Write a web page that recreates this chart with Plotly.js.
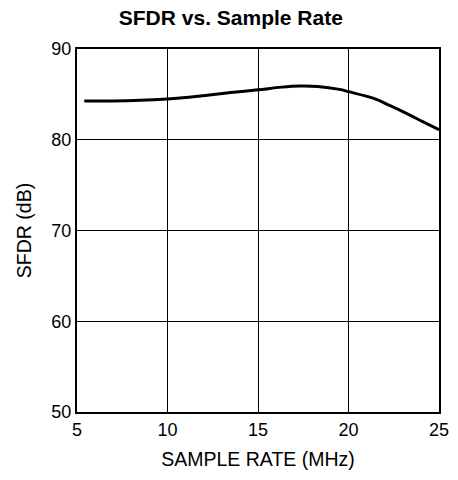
<!DOCTYPE html>
<html>
<head>
<meta charset="utf-8">
<script src="https://cdn.plot.ly/plotly-3.0.1.min.js"></script>
<style>html,body{margin:0;padding:0;background:#fff;}#chart{width:458px;height:480px;}</style>
</head>
<body>
<div id="chart"></div>
<script>
const sampleRate = [5.4, 7, 8.5, 10, 11, 12.2, 13.5, 15, 16.3, 17.3, 18.3, 19.5, 20, 21.4, 22.3, 23.2, 24.1, 25];
const sfdr = [84.28, 84.28, 84.35, 84.5, 84.65, 84.9, 85.2, 85.5, 85.8, 85.93, 85.88, 85.55, 85.3, 84.55, 83.75, 82.9, 82.0, 81.1];
const xTicks = [5, 10, 15, 20, 25];
const yTicks = [50, 60, 70, 80, 90];

const font = "Liberation Sans, Arial, sans-serif";
Plotly.newPlot('chart', [{
  x: sampleRate, y: sfdr, type: 'scatter', mode: 'lines',
  line: {color: '#000', width: 3, shape: 'spline', smoothing: 1}
}], {
  width: 458, height: 480,
  margin: {l: 77, r: 19, t: 49, b: 68},
  paper_bgcolor: '#fff', plot_bgcolor: '#fff',
  showlegend: false,
  title: {text: '<b>SFDR vs. Sample Rate</b>', font: {family: font, size: 21, color: '#000'}, x: 0.504, xanchor: 'center', y: 0.9625, yanchor: 'middle'},
  xaxis: {
    range: [5, 25], tickvals: xTicks, ticktext: xTicks.map(String),
    showgrid: true, gridcolor: '#000', gridwidth: 1,
    showline: true, linecolor: '#000', linewidth: 2, mirror: true,
    ticks: '', zeroline: false,
    tickfont: {family: font, size: 18, color: '#000'},
    title: {text: 'SAMPLE RATE (MHz)', font: {family: font, size: 19.5, color: '#000'}, standoff: 14}
  },
  yaxis: {
    range: [50, 90], tickvals: yTicks, ticktext: yTicks.map(String),
    showgrid: true, gridcolor: '#000', gridwidth: 1,
    showline: true, linecolor: '#000', linewidth: 2, mirror: true,
    ticks: '', zeroline: false,
    tickfont: {family: font, size: 18, color: '#000'},
    title: {text: 'SFDR (dB)', font: {family: font, size: 19.5, color: '#000'}, standoff: 15}
  }
}, {staticPlot: true, displayModeBar: false});
</script>
</body>
</html>
